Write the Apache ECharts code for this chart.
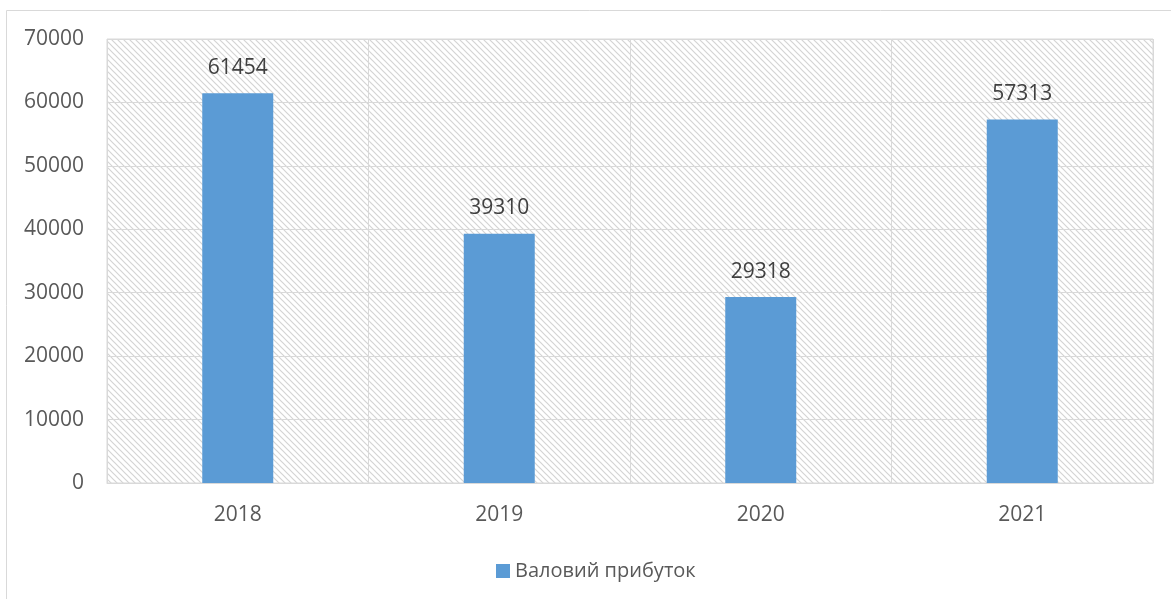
<!DOCTYPE html>
<html>
<head>
<meta charset="utf-8">
<script src="https://cdn.jsdelivr.net/npm/echarts@6/dist/echarts.min.js"></script>
<style>
html,body{margin:0;padding:0;background:#fff;}
#c{width:1171px;height:599px;}
</style>
</head>
<body>
<div id="c"></div>
<script>
const categories = ['2018', '2019', '2020', '2021'];
const values = [61454, 39310, 29318, 57313];
const seriesName = 'Валовий прибуток';
const yTicks = { min: 0, max: 70000, interval: 10000 };

function hatch() {
  const s = 6;
  const cv = document.createElement('canvas');
  cv.width = s; cv.height = s;
  const ctx = cv.getContext('2d');
  ctx.fillStyle = '#ffffff';
  ctx.fillRect(0, 0, s, s);
  ctx.strokeStyle = '#d4d4d4';
  ctx.lineWidth = 1.2;
  ctx.beginPath();
  ctx.moveTo(-1, -1); ctx.lineTo(s + 1, s + 1);
  ctx.moveTo(-1, s - 1); ctx.lineTo(1, s + 1);
  ctx.moveTo(s - 1, -1); ctx.lineTo(s + 1, 1);
  ctx.stroke();
  return cv;
}

const chart = echarts.init(document.getElementById('c'), null, { renderer: 'canvas' });
const font = '"Open Sans", "Noto Sans", sans-serif';
chart.setOption({
  animation: false,
  textStyle: { fontFamily: font },
  graphic: [{
    type: 'rect', silent: true, z: -10,
    shape: { x: 6.5, y: 10.5, width: 1200, height: 700 },
    style: { fill: 'none', stroke: '#d9d9d9', lineWidth: 1 }
  }],
  grid: {
    left: 107, top: 39, right: 18, bottom: 116,
    show: true,
    backgroundColor: { image: hatch(), repeat: 'repeat' },
    borderColor: '#d9d9d9', borderWidth: 1
  },
  legend: {
    data: [seriesName],
    left: 496, top: 561, padding: 0,
    itemWidth: 14, itemHeight: 14, itemGap: 6,
    icon: 'rect',
    textStyle: { color: '#595959', fontSize: 20, fontFamily: font }
  },
  xAxis: {
    type: 'category',
    data: categories,
    boundaryGap: true,
    axisLine: { lineStyle: { color: '#d9d9d9' } },
    axisTick: { show: false },
    splitLine: { show: true, lineStyle: { color: '#d9d9d9', width: 1 } },
    axisLabel: { color: '#595959', fontSize: 21, margin: 22, fontFamily: font }
  },
  yAxis: {
    type: 'value',
    min: yTicks.min, max: yTicks.max, interval: yTicks.interval,
    axisLine: { show: false },
    axisTick: { show: false },
    splitLine: { lineStyle: { color: '#d9d9d9', width: 1 } },
    axisLabel: { color: '#595959', fontSize: 21, margin: 23, fontFamily: font, formatter: v => String(v) }
  },
  series: [{
    name: seriesName,
    type: 'bar',
    data: values,
    barWidth: 71,
    itemStyle: { color: '#5b9bd5' },
    label: {
      show: true, position: 'top', distance: 15,
      color: '#404040', fontSize: 21, fontFamily: font
    }
  }]
});
</script>
</body>
</html>
